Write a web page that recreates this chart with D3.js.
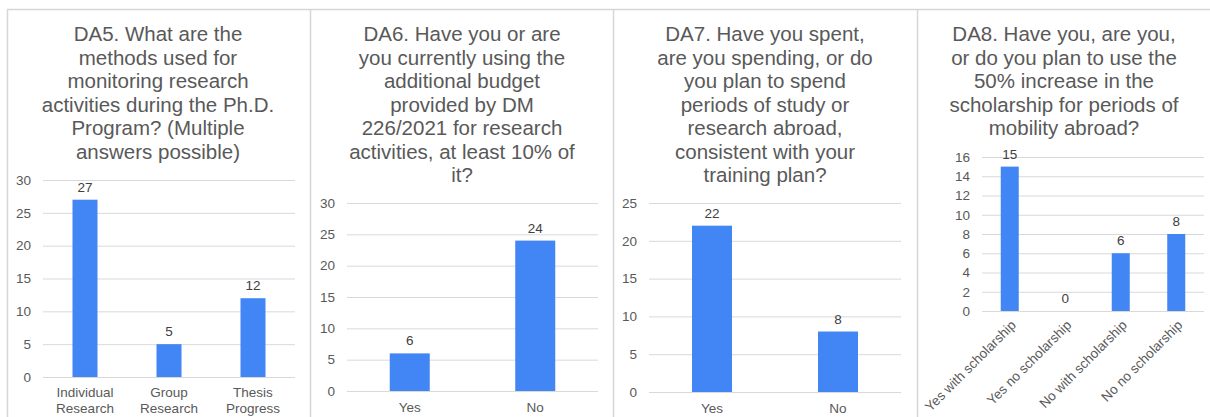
<!DOCTYPE html>
<html>
<head>
<meta charset="utf-8">
<script src="https://cdn.jsdelivr.net/npm/d3@7"></script>
<style>
  body { margin: 0; background: #fff; }
  text { font-family: "Liberation Sans", Arial, sans-serif; }
</style>
</head>
<body>
<div id="chart"></div>
<script>
// data
var da5Title = ["DA5. What are the", "methods used for", "monitoring research",
    "activities during the Ph.D.", "Program? (Multiple", "answers possible)"];
var da5Categories = ["Individual Research", "Group Research", "Thesis Progress"];
var da5Values = [27, 5, 12];
var da5Ticks = [0, 5, 10, 15, 20, 25, 30];

var da6Title = ["DA6. Have you or are", "you currently using the", "additional budget",
    "provided by DM", "226/2021 for research", "activities, at least 10% of", "it?"];
var da6Categories = ["Yes", "No"];
var da6Values = [6, 24];
var da6Ticks = [0, 5, 10, 15, 20, 25, 30];

var da7Title = ["DA7. Have you spent,", "are you spending, or do", "you plan to spend",
    "periods of study or", "research abroad,", "consistent with your", "training plan?"];
var da7Categories = ["Yes", "No"];
var da7Values = [22, 8];
var da7Ticks = [0, 5, 10, 15, 20, 25];

var da8Title = ["DA8. Have you, are you,", "or do you plan to use the", "50% increase in the",
    "scholarship for periods of", "mobility abroad?"];
var da8Categories = ["Yes with scholarship", "Yes no scholarship", "No with scholarship", "No no scholarship"];
var da8Values = [15, 0, 6, 8];
var da8Ticks = [0, 2, 4, 6, 8, 10, 12, 14, 16];

var W = 1210, H = 417;
var svg = d3.select("#chart").append("svg")
    .attr("width", W)
    .attr("height", H);

// panel frames
var frame = svg.append("g").attr("stroke", "#d6d6d6").attr("stroke-width", 1.5);
frame.append("line").attr("x1", 7).attr("x2", W).attr("y1", 9.5).attr("y2", 9.5);
[7.5, 310.5, 613.5, 917.5].forEach(function(x) {
    frame.append("line").attr("x1", x).attr("x2", x).attr("y1", 9).attr("y2", H);
});

var panels = [
    {title: da5Title, cats: da5Categories, vals: da5Values, ticks: da5Ticks,
     cx: 158, left: 43, right: 295, top: 180, bottom: 377, barW: 25, labels: "wrap"},
    {title: da6Title, cats: da6Categories, vals: da6Values, ticks: da6Ticks,
     cx: 462, left: 347, right: 598, top: 203, bottom: 391, barW: 40, labels: "flat"},
    {title: da7Title, cats: da7Categories, vals: da7Values, ticks: da7Ticks,
     cx: 765, left: 649, right: 901, top: 203, bottom: 392, barW: 40, labels: "flat"},
    {title: da8Title, cats: da8Categories, vals: da8Values, ticks: da8Ticks,
     cx: 1064, left: 982, right: 1204, top: 157, bottom: 311, barW: 18, labels: "rotate"}
];

panels.forEach(function(p) {
    var g = svg.append("g");

    g.append("text")
        .attr("text-anchor", "middle")
        .attr("fill", "#595959")
        .style("font-size", "20.5px")
        .selectAll("tspan")
        .data(p.title)
        .enter().append("tspan")
        .attr("x", p.cx)
        .attr("y", function(d, i) { return 41 + i * 23.5; })
        .text(function(d) { return d; });

    var xScale = d3.scaleBand()
        .domain(p.cats)
        .range([p.left, p.right]);

    var yScale = d3.scaleLinear()
        .domain([0, d3.max(p.ticks)])
        .range([p.bottom, p.top]);

    var yAxis = d3.axisLeft(yScale)
        .tickValues(p.ticks)
        .tickSize(-(p.right - p.left))
        .tickPadding(12);

    var yAxisGroup = g.append("g")
        .attr("transform", "translate(" + p.left + ",0)")
        .call(yAxis);
    yAxisGroup.select(".domain").remove();
    yAxisGroup.selectAll("line").attr("stroke", "#d9d9d9");
    yAxisGroup.selectAll("text")
        .attr("fill", "#595959")
        .style("font-size", "13.5px")
        .style("font-family", "Liberation Sans, Arial, sans-serif");

    g.selectAll("rect.bar")
        .data(p.vals)
        .enter().append("rect")
        .attr("class", "bar")
        .attr("x", function(d, i) { return xScale(p.cats[i]) + xScale.bandwidth() / 2 - p.barW / 2; })
        .attr("y", function(d) { return yScale(d); })
        .attr("width", p.barW)
        .attr("height", function(d) { return yScale(0) - yScale(d); })
        .attr("fill", "#4285f4");

    g.selectAll("text.val")
        .data(p.vals)
        .enter().append("text")
        .attr("class", "val")
        .attr("text-anchor", "middle")
        .attr("fill", "#404040")
        .style("font-size", "13.5px")
        .attr("x", function(d, i) { return xScale(p.cats[i]) + xScale.bandwidth() / 2; })
        .attr("y", function(d) { return yScale(d) - 8; })
        .text(function(d) { return d; });

    var xl = g.selectAll("text.cat")
        .data(p.cats)
        .enter().append("text")
        .attr("class", "cat")
        .attr("fill", "#595959")
        .style("font-size", "13.5px");

    if (p.labels === "wrap") {
        xl.attr("text-anchor", "middle")
            .selectAll("tspan")
            .data(function(d) { return d.split(" "); })
            .enter().append("tspan")
            .attr("x", function() { var c = d3.select(this.parentNode).datum(); return xScale(c) + xScale.bandwidth() / 2; })
            .attr("y", function(d, i) { return p.bottom + 20 + i * 15.5; })
            .text(function(d) { return d; });
    } else if (p.labels === "flat") {
        xl.attr("text-anchor", "middle")
            .attr("x", function(d) { return xScale(d) + xScale.bandwidth() / 2; })
            .attr("y", p.bottom + 21)
            .text(function(d) { return d; });
    } else {
        xl.attr("text-anchor", "end")
            .attr("transform", function(d) {
                return "translate(" + (xScale(d) + xScale.bandwidth() / 2 + 7) + "," + (p.bottom + 15) + ") rotate(-45)";
            })
            .text(function(d) { return d; });
    }
});
</script>
</body>
</html>
